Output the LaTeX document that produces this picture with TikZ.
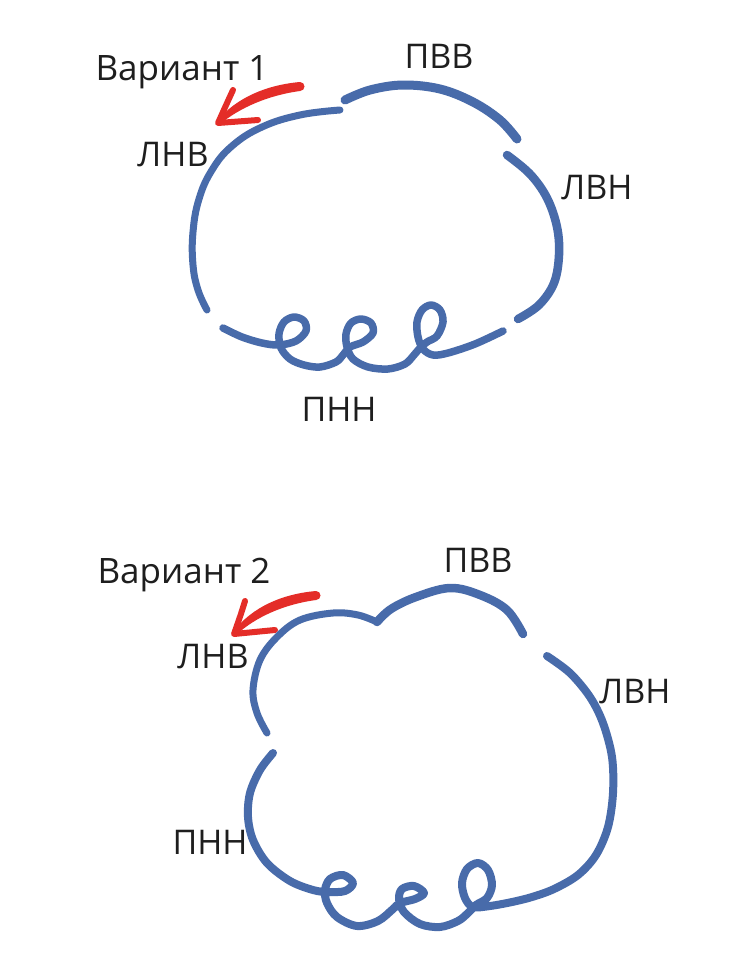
\documentclass[tikz,border=0pt]{standalone}
\usepackage{fontspec}
\setmainfont{Open Sans}
\definecolor{curveblue}{RGB}{72,107,170}
\definecolor{arrowred}{RGB}{228,45,40}
\definecolor{txt}{RGB}{30,30,30}
\begin{document}
\begin{tikzpicture}[x=1pt,y=-1pt,
  curve/.style={draw=curveblue, line width=7.5pt, line cap=round, line join=round},
  lbl/.style={font=\fontsize{34}{34}\selectfont, text=txt, anchor=base, inner sep=0pt},
  ttl/.style={font=\fontsize{35}{35}\selectfont, text=txt, anchor=base, inner sep=0pt},
  barb/.style={draw=arrowred, line width=6pt, line cap=round, line join=round},
]
\path[use as bounding box, fill=white] (0,0) rectangle (729,966);

% ---------- Variant 1 ----------
\node[ttl] (v1) at (182,81) {Вариант 1};
\node[lbl] (pvv1) at (439,68) {ПВВ};
\node[lbl] (lnv1) at (173,166) {ЛНВ};
\node[lbl] (lvn1) at (597,199) {ЛВН};
\node[lbl] (pnn1) at (339,421) {ПНН};

\begin{scope}[shift={(218,123)}]
  \fill[arrowred] (82,-41) .. controls (48,-38) and (18,-25) .. (-1,-2)
     -- (1,2) .. controls (22,-16) and (52,-28) .. (82,-32) -- cycle;
  \fill[arrowred] (82,-36.5) circle (4.5);
  \draw[barb] (15,-33) .. controls (9,-20) .. (0,0) -- (40,-3);
\end{scope}

\draw[curve, line width=7pt] plot[smooth, tension=0.7] coordinates {(340,110) (300,115) (262,127) (232,146) (212,170) (199,199) (193,232) (193,265) (198,290) (207,310)};
\draw[curve, line width=9pt] plot[smooth, tension=0.6] coordinates {(345,100) (370,90) (403,85) (440,89) (473,102) (500,120) (517,139)};
\draw[curve, line width=8.5pt] plot[smooth, tension=0.6] coordinates {(507,155) (530,174) (547,198) (557,227) (559,255) (554,283) (539,305) (518,319)};
\draw[curve] plot[smooth, tension=0.55] coordinates {(223,328) (242,337) (262,343) (279,345) (296,341) (306,331) (304,321) (294,317) (284,322) (279,334) (281,348) (290,359) (304,365) (320,367) (336,362) (343,355) (350,347) (363,342) (373,333) (371,323) (361,319) (351,323) (346,334) (347,347) (353,359) (368,367) (388,369) (405,364) (414,355) (420,348) (427,342) (437,336) (443,322) (440,310) (431,305) (422,310) (417,322) (418,337) (423,349) (433,355) (448,353) (475,344) (503,331)};

% ---------- Variant 2 ----------
\node[ttl] (v2) at (184,583) {Вариант 2};
\node[lbl] (pvv2) at (478,572) {ПВВ};
\node[lbl] (lnv2) at (213,668) {ЛНВ};
\node[lbl] (lvn2) at (635,703) {ЛВН};
\node[lbl] (pnn2) at (210,854) {ПНН};

\begin{scope}[shift={(234,634)}]
  \fill[arrowred] (82,-43) .. controls (48,-40) and (18,-27) .. (-1,-2)
     -- (1,2) .. controls (22,-18) and (52,-30) .. (82,-34) -- cycle;
  \fill[arrowred] (82,-38.5) circle (4.5);
  \draw[barb] (11,-33) .. controls (7,-20) .. (0,0) -- (41,-4);
\end{scope}

\draw[curve, line width=7pt] plot[smooth, tension=0.6] coordinates {(267,733) (257,713) (253,690) (260,660) (277,637) (300,620) (333,613) (358,615) (377,622)};
\draw[curve, line width=8.5pt] plot[smooth, tension=0.6] coordinates {(377,622) (391,609) (416,597) (450,588) (480,595) (507,610) (523,634)};
\draw[curve, line width=8pt] plot[smooth, tension=0.55] coordinates {(273,753) (260,770) (250,793) (248,817) (253,840) (267,863) (290,881) (313,890) (328,892) (345,891) (353,883) (343,875) (330,879) (325,890) (327,903) (337,917) (357,926) (378,921) (393,909) (400,903) (415,899) (424,893) (414,886) (402,889) (399,899) (404,912) (420,924) (440,927) (458,921) (468,913) (476,905) (487,898) (492,885) (488,870) (478,863) (467,869) (462,883) (465,898) (473,907) (490,906) (512,902) (532,897) (554,889) (578,875) (596,855) (608,827) (613,793) (612,757) (603,723) (590,697) (570,673) (547,656)};
\end{tikzpicture}
\end{document}
